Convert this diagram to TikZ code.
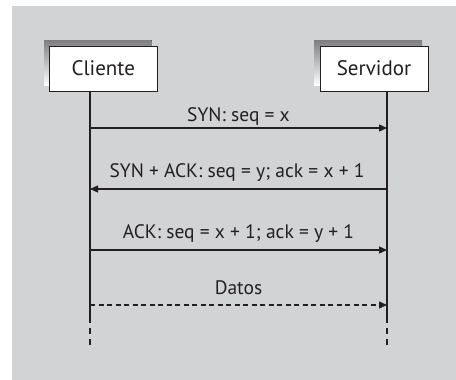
\documentclass[tikz,border=0pt]{standalone}
\usepackage{fontspec}
\setmainfont{PT Sans}
\usetikzlibrary{arrows.meta}
\definecolor{panel}{HTML}{D2D3D5}
\definecolor{shade}{HTML}{6E6E71}
\definecolor{ink}{HTML}{231F20}
\tikzset{
  actor/.style={draw=ink, line width=0.9pt, fill=white, minimum width=107.5pt,
    minimum height=45pt, inner sep=0pt, font=\fontsize{21}{24}\selectfont, text=ink},
  lifeline/.style={draw=ink, line width=1.5pt},
  tail/.style={draw=ink, line width=1.5pt, dash pattern=on 6pt off 5pt},
  msg/.style={draw=ink, line width=1.3pt, -{Triangle[length=8pt,width=7pt]}},
  datamsg/.style={msg, dash pattern=on 5pt off 3.5pt},
  msglabel/.style={font=\fontsize{19.5}{22}\selectfont, text=ink, inner sep=0pt, anchor=base}
}
\begin{document}
\begin{tikzpicture}[x=1pt,y=1pt]
  \useasboundingbox (0,0) rectangle (456,380);
  \fill[panel] (12,0) rectangle (456,374);

  % shadows behind the actor boxes
  \fill[shade] (44,294.5) rectangle (151.5,339.5);
  \fill[shade] (314,294.5) rectangle (422,339.5);

  \node[actor] (cli) at (103.25,311.5) {Cliente};
  \node[actor, minimum width=108pt] (srv) at (374,311.5) {Servidor};

  % lifelines
  \coordinate (cTop) at (90,289);
  \coordinate (sTop) at (387,289);
  \coordinate (cEnd) at (90,63);
  \coordinate (sEnd) at (387,63);
  \coordinate (cTail) at (90,33);
  \coordinate (sTail) at (387,33);
  \draw[lifeline] (cTop) -- (cEnd);
  \draw[lifeline] (sTop) -- (sEnd);
  \draw[tail] (cEnd) -- (cTail);
  \draw[tail] (sEnd) -- (sTail);

  % messages
  \coordinate (c1) at (90,252);   \coordinate (s1) at (387,252);
  \coordinate (c2) at (90,191);   \coordinate (s2) at (387,191);
  \coordinate (c3) at (90,130);   \coordinate (s3) at (387,130);
  \coordinate (c4) at (90,75);    \coordinate (s4) at (387,75);

  \draw[msg] (c1) -- (s1);
  \node[msglabel] (l1) at (238.5,258) {SYN: seq = x};
  \draw[msg] (s2) -- (c2);
  \node[msglabel] (l2) at (237,202) {SYN + ACK: seq = y; ack = x + 1};
  \draw[msg] (c3) -- (s3);
  \node[msglabel] (l3) at (238.5,141) {ACK: seq = x + 1; ack = y + 1};
  \draw[datamsg] (c4) -- (s4);
  \node[msglabel] (l4) at (238.5,85) {Datos};
\end{tikzpicture}
\end{document}
